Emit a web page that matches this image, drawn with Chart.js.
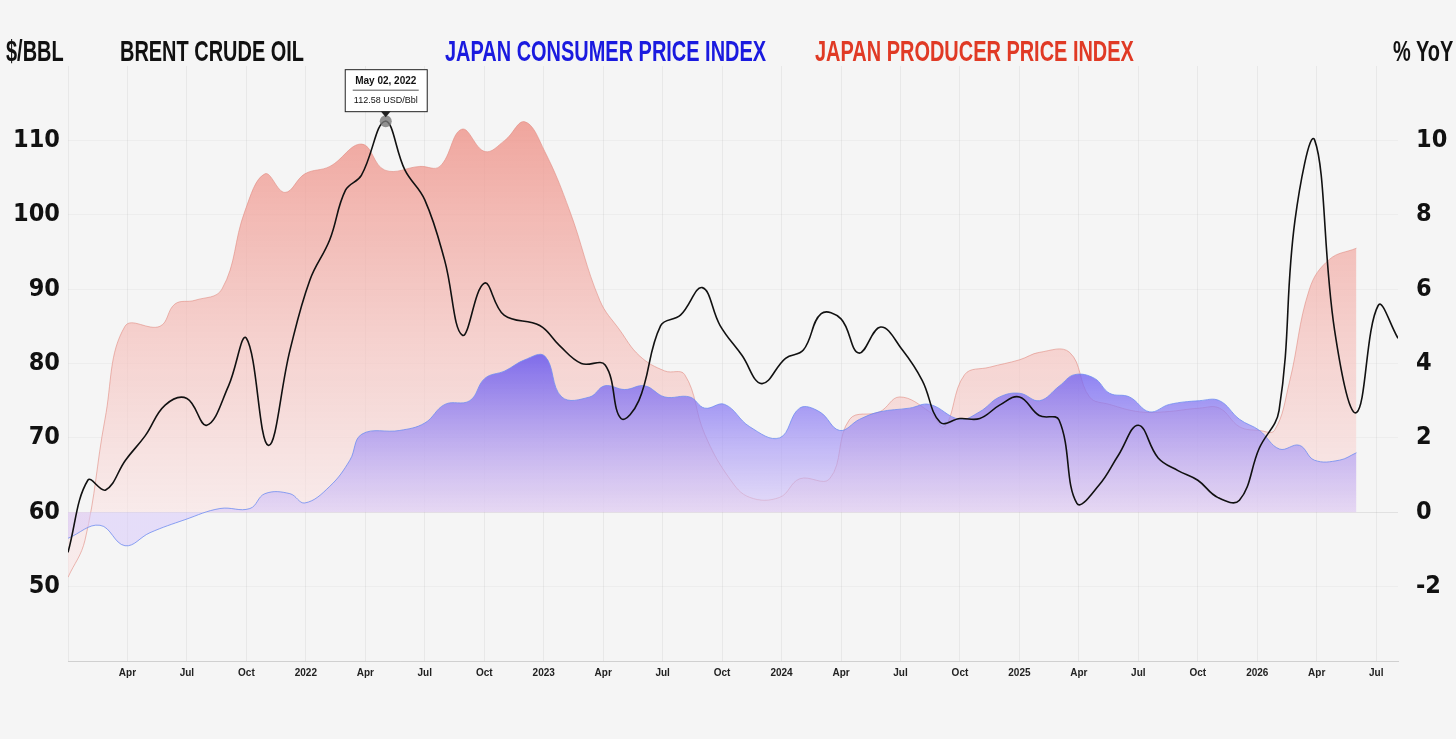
<!DOCTYPE html>
<html><head><meta charset="utf-8">
<script src="https://cdn.jsdelivr.net/npm/chart.js@4/dist/chart.umd.min.js"></script>
<style>
html,body{margin:0;padding:0;background:#f5f5f5;width:1456px;height:739px;overflow:hidden;font-family:"DejaVu Sans Condensed","Liberation Sans",sans-serif;}
#wrap{position:absolute;left:0;top:0;width:1456px;height:739px;}
.t{position:absolute;top:34px;font-size:30px;font-weight:bold;line-height:34px;white-space:nowrap;color:#111;transform:scaleX(0.665);transform-origin:0 0;font-family:"Liberation Sans",sans-serif;}
</style></head><body>
<div id="wrap"><canvas id="c" width="1456" height="739"></canvas></div>
<div class="t" style="left:6px">$/BBL</div>
<div class="t" style="left:120px">BRENT CRUDE OIL</div>
<div class="t" style="left:445px;color:#1a1adf">JAPAN CONSUMER PRICE INDEX</div>
<div class="t" style="left:815px;color:#e03a25">JAPAN PRODUCER PRICE INDEX</div>
<div class="t" style="left:1393px">% YoY</div>
<script>
// month index: 0 = Jan 2021
const brentX=[0,1,1.9,2.9,3.9,4.9,6,7,8.1,9,10.1,11.2,12.2,13.2,14,14.8,16,17,18,19,19.9,21,22,23.8,24.8,25.9,27.1,27.9,28.8,29.9,30.9,32,32.9,34,35,36.2,37.1,38,39,39.9,41,42.1,43.1,44,45,46,47,48,49,50,50.9,52,53,54,55,56,57,58,59.1,60.1,61.1,61.9,62.9,63.9,65,66.1,67.1];
const brentY=[54.6,64.3,63,67,70.3,74.4,75.3,71.7,77,83.4,69,81.8,91.2,96.6,103.3,105.3,112.58,106,102,93.9,83.8,90.8,86.5,85.1,82.4,80,79.8,72.6,75,85.1,86.5,90.2,85.1,81.1,77.3,80.7,81.8,86.7,86,81.4,84.9,81.8,77.7,72.1,72.6,72.6,74.4,75.5,73,72.4,61.2,63.6,67.7,71.7,67.3,65.6,64.3,62,61.6,68.6,73.7,99.2,110,84.5,73.4,87.8,83.4];
const ppiPx=[68,85,105,125,160,175,195,222,245,265,285,305,330,362,385,420,440,462,485,505,525,545,570,600,620,640,665,685,705,730,750,780,800,830,850,880,900,930,945,965,990,1020,1040,1070,1090,1110,1140,1165,1200,1220,1240,1260,1275,1290,1310,1330,1357];
const ppiY=[-1.75,-0.75,2.5,5,5,5.6,5.7,6,8.1,9.1,8.6,9.1,9.3,9.9,9.2,9.3,9.3,10.3,9.7,10,10.5,9.7,8.1,5.7,4.9,4.2,3.8,3.7,2.1,0.9,0.4,0.4,0.9,0.9,2.5,2.7,3.1,2.7,2.3,3.7,3.9,4.1,4.3,4.3,3.1,2.9,2.7,2.7,2.8,2.8,2.3,2.2,2.2,3.5,6,6.8,7.1];
const cpiPx=[68,100,125,150,185,220,250,265,290,305,330,350,362,400,425,445,470,485,505,525,545,562,590,605,625,645,665,690,705,725,750,780,800,820,840,860,880,910,930,960,980,1000,1020,1040,1060,1075,1095,1110,1130,1150,1170,1200,1220,1240,1260,1280,1300,1315,1340,1357];
const cpiY=[-0.7,-0.35,-0.9,-0.55,-0.2,0.1,0.1,0.5,0.5,0.25,0.7,1.4,2.1,2.2,2.4,2.9,3.0,3.6,3.8,4.1,4.2,3.1,3.1,3.4,3.3,3.4,3.1,3.1,2.8,2.9,2.3,2.0,2.8,2.7,2.2,2.5,2.7,2.8,2.9,2.5,2.7,3.1,3.2,3.0,3.4,3.7,3.6,3.2,3.1,2.7,2.9,3.0,3.0,2.5,2.2,1.7,1.8,1.4,1.4,1.6];
const monthNames=['','Apr','Jul','Oct'];
const toM=p=>(p-68)/19.83;
const brent=brentX.map((x,i)=>({x,y:brentY[i]}));
const ppi=ppiPx.map((p,i)=>({x:toM(p),y:ppiY[i]}));
const cpi=cpiPx.map((p,i)=>({x:toM(p),y:cpiY[i]}));

function grad(chart,topVal,c1,c2){
  const s=chart.scales.y1;
  const g=chart.ctx.createLinearGradient(0,s.getPixelForValue(topVal),0,s.getPixelForValue(0));
  g.addColorStop(0,c1);g.addColorStop(1,c2);return g;
}
const tipPlugin={id:'tip',afterDatasetsDraw(ch){
  const ctx=ch.ctx,xs=ch.scales.x,ys=ch.scales.y;
  const px=xs.getPixelForValue(16.03),py=ys.getPixelForValue(112.58);
  ctx.save();
  ctx.fillStyle='rgba(120,120,120,0.8)';ctx.beginPath();ctx.arc(px,py,6,0,Math.PI*2);ctx.fill();
  const w=82,h=42,bx=px-w/2,by=py-h-10;
  ctx.fillStyle='#fff';ctx.strokeStyle='#222';ctx.lineWidth=1;
  ctx.fillRect(bx,by,w,h);ctx.strokeRect(bx+0.5,by+0.5,w,h);
  ctx.beginPath();ctx.moveTo(px-5,by+h);ctx.lineTo(px,by+h+6);ctx.lineTo(px+5,by+h);ctx.fillStyle='#222';ctx.fill();
  ctx.fillStyle='#111';ctx.textAlign='center';
  ctx.font='bold 10px "Liberation Sans", sans-serif';ctx.fillText('May 02, 2022',px,by+15);
  ctx.beginPath();ctx.moveTo(bx+8,by+21);ctx.lineTo(bx+w-8,by+21);ctx.strokeStyle='#555';ctx.stroke();
  ctx.font='9px "Liberation Sans", sans-serif';ctx.fillText('112.58 USD/Bbl',px,by+34);
  ctx.restore();
}};
const tickFont={size:25,weight:'bold',family:'"DejaVu Sans Condensed","Liberation Sans",sans-serif'};
new Chart(document.getElementById('c'),{
  type:'line',
  data:{datasets:[
    {data:brent,yAxisID:'y',borderColor:'#111',borderWidth:1.6,tension:0.4,pointRadius:0,fill:false,order:0},
    {data:cpi,yAxisID:'y1',borderColor:'rgba(110,140,240,0.8)',borderWidth:1,tension:0.4,pointRadius:0,fill:'origin',order:1,
      backgroundColor:c=>c.chart.chartArea?grad(c.chart,4.3,'rgba(95,80,240,0.8)','rgba(215,200,250,0.55)'):'rgba(0,0,0,0)'},
    {data:ppi,yAxisID:'y1',borderColor:'rgba(225,140,130,0.6)',borderWidth:1,tension:0.4,pointRadius:0,fill:'origin',order:2,
      backgroundColor:c=>c.chart.chartArea?grad(c.chart,10.5,'rgba(238,145,135,0.8)','rgba(250,225,225,0.55)'):'rgba(0,0,0,0)'}
  ]},
  options:{responsive:false,animation:false,
    layout:{padding:{top:66,left:0,right:0,bottom:0}},
    plugins:{legend:{display:false},tooltip:{enabled:false}},
    scales:{
      x:{type:'linear',min:0,max:67.1,
        afterFit:s=>{s.height=78;},
        afterBuildTicks:s=>{const t=[];for(let m=0;m<=66;m+=3)t.push({value:m});s.ticks=t;},
        ticks:{color:'#222',font:{size:10,weight:'bold',family:'"Liberation Sans", sans-serif'},padding:6,maxRotation:0,autoSkip:false,
          callback:v=>{if(v===0)return '';return v%12===0?String(2021+v/12):monthNames[(v%12)/3];}},
        grid:{color:'rgba(0,0,0,0.05)',drawTicks:false},border:{color:'rgba(0,0,0,0.15)'}},
      y:{position:'left',min:40,max:120,
        afterFit:s=>{s.width=68;},
        afterBuildTicks:s=>{s.ticks=[50,60,70,80,90,100,110].map(v=>({value:v}));},
        ticks:{color:'#111',font:tickFont,padding:8},
        grid:{color:c=>c.tick.value===60?'rgba(0,0,0,0.08)':'rgba(0,0,0,0.03)',drawTicks:false},border:{display:false}},
      y1:{position:'right',min:-4,max:12,
        afterFit:s=>{s.width=58;},
        afterBuildTicks:s=>{s.ticks=[-2,0,2,4,6,8,10].map(v=>({value:v}));},
        ticks:{color:'#111',font:tickFont,padding:10},
        grid:{display:false},border:{display:false}}
    }},
  plugins:[tipPlugin]
});
</script></body></html>
